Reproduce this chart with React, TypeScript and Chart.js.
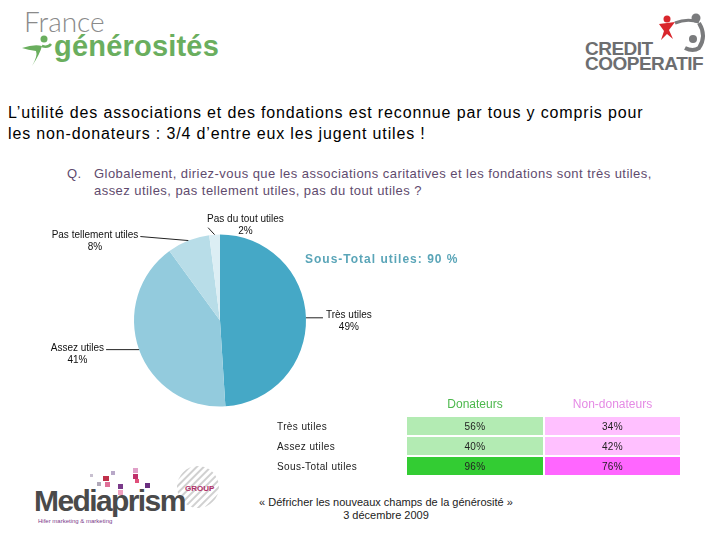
import React, { useEffect, useRef } from "react";
import { Chart, registerables } from "chart.js";

Chart.register(...registerables);

// ---- data ----
const CATEGORIES = ["Très utiles", "Assez utiles", "Pas tellement utiles", "Pas du tout utiles"];
const VALUES = [49, 41, 8, 2];
const SLICE_COLORS = ["#45A8C6", "#93CBDD", "#B8DDE8", "#DCEEF4"];
const SUBTOTAL_LABEL = "Sous-Total utiles";

const TABLE_ROWS = ["Très utiles", "Assez utiles", "Sous-Total utiles"];
const DONATEURS = [56, 40, 96];
const NON_DONATEURS = [34, 42, 76];
const TABLE_HEADERS = ["Donateurs", "Non-donateurs"];

const TITLE_LINES = [
  "L’utilité des associations et des fondations est reconnue par tous y compris pour",
  "les non-donateurs : 3/4 d’entre eux les jugent utiles !",
];
const QUESTION_LINES = [
  "Globalement, diriez-vous que les associations caritatives et les fondations sont très utiles,",
  "assez utiles, pas tellement utiles, pas du tout utiles ?",
];
const FOOTER = ["« Défricher les nouveaux champs de la générosité »", "3 décembre 2009"];

// ---- label layout (leader-line offsets from arc edge) ----
const LABEL_LAYOUT = [
  { dx: 17, dy: 0, align: "left", tx: 3, ty: -3 },
  { dx: -33, dy: 0, align: "right", tx: -2, ty: -1 },
  { dx: -48, dy: -4, align: "right", tx: -2, ty: -1 },
  { dx: -6.5, dy: -7, align: "left", tx: -1, ty: -8 },
];

const labelPlugin = {
  id: "pieLabels",
  afterDatasetsDraw(chart: any) {
    const ctx = chart.ctx;
    const meta = chart.getDatasetMeta(0);
    ctx.save();
    ctx.font = "10px 'Liberation Sans', Arial, sans-serif";
    ctx.fillStyle = "#111";
    ctx.strokeStyle = "#222";
    ctx.lineWidth = 1;
    ctx.textBaseline = "middle";
    meta.data.forEach((arc: any, i: number) => {
      const p = arc.getProps(["x", "y", "startAngle", "endAngle", "outerRadius"], true);
      const mid = (p.startAngle + p.endAngle) / 2;
      const ax = p.x + Math.cos(mid) * p.outerRadius;
      const ay = p.y + Math.sin(mid) * p.outerRadius;
      const L = LABEL_LAYOUT[i];
      const ex = ax + L.dx;
      const ey = ay + L.dy;
      ctx.beginPath();
      ctx.moveTo(ax, ay);
      ctx.lineTo(ex, ey);
      ctx.stroke();
      const name = CATEGORIES[i];
      const w = ctx.measureText(name).width;
      const nx = ex + L.tx;
      const ny = ey + L.ty;
      ctx.textAlign = L.align;
      ctx.fillText(name, nx, ny);
      const cx = L.align === "left" ? nx + w / 2 : nx - w / 2;
      ctx.textAlign = "center";
      ctx.fillText(VALUES[i] + "%", cx, ny + 12);
    });
    ctx.restore();
  },
};

function PieChart() {
  const ref = useRef<HTMLCanvasElement>(null);
  useEffect(() => {
    if (!ref.current) return;
    const chart = new Chart(ref.current, {
      type: "pie",
      data: {
        labels: CATEGORIES,
        datasets: [{ data: VALUES, backgroundColor: SLICE_COLORS, borderWidth: 0 }],
      },
      options: {
        responsive: false,
        animation: false,
        layout: { padding: { top: 29, bottom: 28, left: 134, right: 134 } },
        plugins: { legend: { display: false }, tooltip: { enabled: false } },
      },
      plugins: [labelPlugin as any],
    });
    return () => chart.destroy();
  }, []);
  return (
    <canvas
      ref={ref}
      width={440}
      height={230}
      style={{ position: "absolute", left: 0, top: 205, width: 440, height: 230 }}
    />
  );
}

const abs = (l: number, t: number, extra: any = {}) => ({ position: "absolute" as const, left: l, top: t, ...extra });

export default function App() {
  const subtotal = VALUES[0] + VALUES[1];
  const cellBase = {
    height: 18,
    display: "flex",
    alignItems: "center",
    justifyContent: "center",
    fontSize: 10,
    letterSpacing: 0.4,
    color: "#222",
    whiteSpace: "nowrap",
  };
  return (
    <div
      style={{
        position: "absolute",
        left: 0,
        top: 0,
        width: 720,
        height: 540,
        background: "#fff",
        overflow: "hidden",
        fontFamily: "'Liberation Sans', Arial, sans-serif",
      }}
    >
      {/* France générosités logo */}
      <div style={abs(24, 5, { fontSize: 28, lineHeight: "32px", color: "#8a8a8a", fontFamily: "Lato, 'Liberation Sans', sans-serif", fontWeight: 300, letterSpacing: 0 })}>
        France
      </div>
      <div style={abs(54, 30, { fontSize: 29, lineHeight: "32px", color: "#6aae5e", fontWeight: 700, letterSpacing: 0.2 })}>générosités</div>
      <svg style={abs(18, 34)} width={36} height={36} viewBox="0 0 36 36">
        <circle cx={26} cy={5} r={3.5} fill="#6aae5e" />
        <path d="M4 14 Q16 10 24 12 Q22 20 14 32 Q20 22 18 17 Q10 16 4 14 Z" fill="#6aae5e" />
        <path d="M24 12 Q30 14 33 10" stroke="#6aae5e" strokeWidth={2.5} fill="none" />
      </svg>

      {/* Crédit Coopératif logo */}
      <svg style={abs(655, 12)} width={55} height={48} viewBox="0 0 55 48">
        <circle cx={12} cy={7} r={3.5} fill="#d9262c" />
        <path d="M4 12 L20 10 L14 18 L18 27 L12 22 L6 28 L9 19 Z" fill="#d9262c" />
        <path d="M20 11 Q32 6 44 10" stroke="#7a7b7d" strokeWidth={3} fill="none" />
        <circle cx={41} cy={6} r={4.5} fill="#7a7b7d" />
        <path d="M44 11 Q52 24 44 36 Q38 40 30 36" stroke="#7a7b7d" strokeWidth={4} fill="none" />
        <circle cx={38} cy={27} r={4} fill="#7a7b7d" />
      </svg>
      <div style={abs(585, 41, { fontSize: 19, fontWeight: 700, color: "#6d6e70", lineHeight: "15px", letterSpacing: -0.5 })}>
        CREDIT
        <br />
        COOPERATIF
      </div>

      {/* Title */}
      <div style={abs(8, 102, { fontSize: 16, lineHeight: "21px", color: "#000", whiteSpace: "nowrap", letterSpacing: 0.85 })}>
        {TITLE_LINES.map((t, i) => (
          <div key={i}>{t}</div>
        ))}
      </div>

      {/* Question */}
      <div style={abs(67, 165, { fontSize: 13, lineHeight: "17px", color: "#5f4b6e", display: "flex", whiteSpace: "nowrap", letterSpacing: 0.45 })}>
        <span style={{ width: 27, flexShrink: 0 }}>Q.</span>
        <span>
          {QUESTION_LINES.map((t, i) => (
            <div key={i}>{t}</div>
          ))}
        </span>
      </div>

      <PieChart />

      <div style={abs(305, 252, { fontSize: 12, fontWeight: 700, color: "#5aa5b8", letterSpacing: 1.0, whiteSpace: "nowrap" })}>
        {SUBTOTAL_LABEL}: {subtotal} %
      </div>

      {/* Table */}
      <div style={abs(407, 397, { width: 136, textAlign: "center", fontSize: 12, color: "#4cb84c" })}>{TABLE_HEADERS[0]}</div>
      <div style={abs(545, 397, { width: 135, textAlign: "center", fontSize: 12, color: "#e58ae5" })}>{TABLE_HEADERS[1]}</div>
      {TABLE_ROWS.map((r, i) => {
        const top = 417 + i * 20;
        const last = i === TABLE_ROWS.length - 1;
        return (
          <React.Fragment key={r}>
            <div style={abs(277, top, { ...cellBase, justifyContent: "flex-start" })}>{r}</div>
            <div style={abs(407, top, { ...cellBase, width: 136, background: last ? "#33cc33" : "#b3ebb3" })}>
              {DONATEURS[i]}%
            </div>
            <div style={abs(545, top, { ...cellBase, width: 135, background: last ? "#ff66ff" : "#ffc0ff" })}>
              {NON_DONATEURS[i]}%
            </div>
          </React.Fragment>
        );
      })}

      {/* Mediaprism logo */}
      <svg style={abs(80, 462)} width={145} height={60} viewBox="0 0 145 60">
        <defs>
          <pattern id="hatch" width="5" height="5" patternUnits="userSpaceOnUse" patternTransform="rotate(45)">
            <rect width="2" height="5" fill="#d0d0d0" />
          </pattern>
        </defs>
        <circle cx={118} cy={25} r={21} fill="url(#hatch)" />
        <rect x={53} y={6} width={5} height={5} fill="#e0a0c8" />
        <rect x={53} y={12} width={5} height={5} fill="#c0306a" />
        <rect x={31} y={9} width={4} height={4} fill="#b8a8c8" />
        <rect x={23} y={14} width={6} height={5} fill="#c0304a" />
        <rect x={25} y={20} width={5} height={5} fill="#e07098" />
        <rect x={17} y={20} width={4} height={4} fill="#b0a8b8" />
        <rect x={38} y={22} width={5} height={5} fill="#7a3a8a" />
        <rect x={65} y={21} width={5} height={5} fill="#6a3080" />
        <rect x={55} y={17} width={4} height={4} fill="#e0507a" />
        <rect x={38} y={28} width={5} height={5} fill="#f0a0c0" />
        <rect x={10} y={12} width={3} height={3} fill="#c8c0d0" />
      </svg>
      <div style={abs(34, 484, { fontSize: 30, fontWeight: 700, color: "#4a4a4a", letterSpacing: -1.6 })}>
        Mediaprism
      </div>
      <div style={abs(185, 484, { fontSize: 8, color: "#b0306a", fontWeight: 700 })}>GROUP</div>
      <div style={abs(38, 518, { fontSize: 6, color: "#7a3a8a" })}>Hifer marketing &amp; marketing</div>

      {/* Footer */}
      <div style={abs(236, 496, { width: 300, textAlign: "center", fontSize: 11, lineHeight: "13px", color: "#222" })}>
        {FOOTER.map((t, i) => (
          <div key={i}>{t}</div>
        ))}
      </div>
    </div>
  );
}
